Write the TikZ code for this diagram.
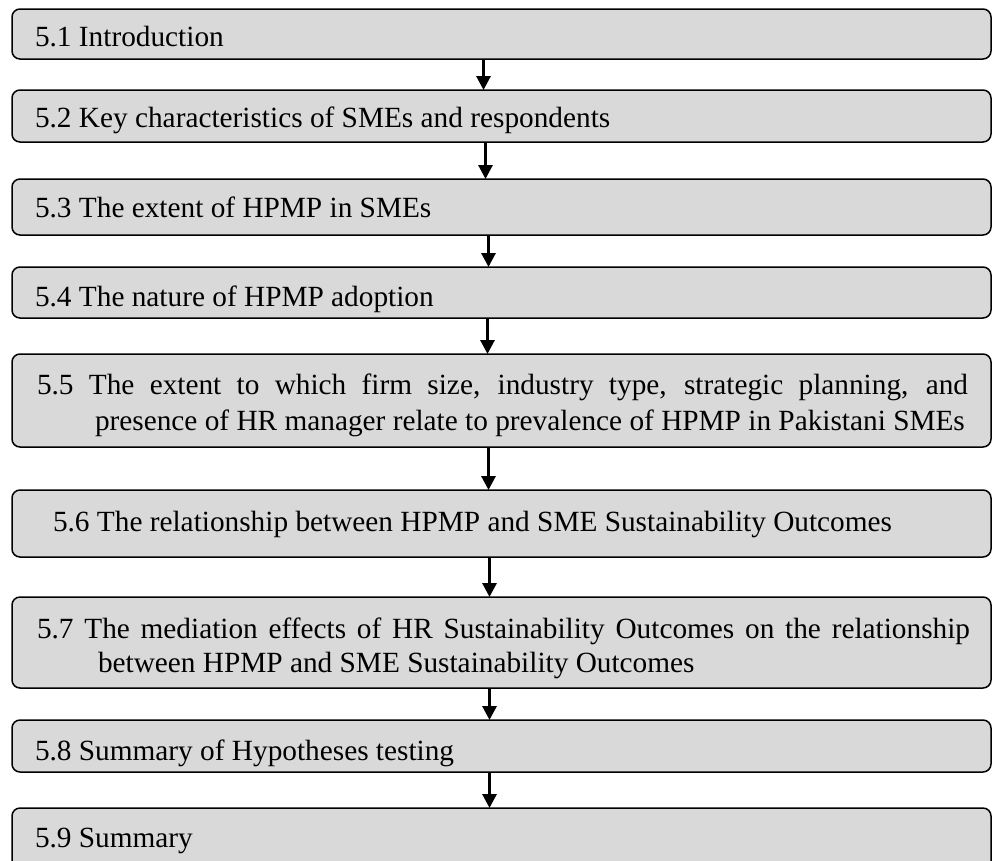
\documentclass[tikz,border=0pt]{standalone}
\usepackage{fontspec}
\setmainfont{Liberation Serif}
\usetikzlibrary{arrows.meta}
\definecolor{boxgray}{RGB}{217,217,217}
\tikzset{
  box/.style={draw=black, line width=1.5pt, fill=boxgray, rounded corners=8pt,
    rectangle, minimum width=979pt, inner sep=0pt, outer sep=0pt},
  lbl/.style={inner sep=0pt, outer sep=0pt, anchor=base west,
    font=\fontsize{29.3}{36}\selectfont},
  arr/.style={line width=3pt, -{Triangle[length=14pt,width=14pt]}}
}
\begin{document}
\begin{tikzpicture}[x=1pt,y=-1pt]
\useasboundingbox (0,0) rectangle (992,860);
% boxes
\node[box, minimum height=50pt] (b1) at (501.5,34) {};
\node[box, minimum height=52pt] (b2) at (501.5,116) {};
\node[box, minimum height=56pt] (b3) at (501.5,207) {};
\node[box, minimum height=51pt] (b4) at (501.5,292.5) {};
\node[box, minimum height=93pt] (b5) at (501.5,400.5) {};
\node[box, minimum height=67pt] (b6) at (501.5,523.5) {};
\node[box, minimum height=91pt] (b7) at (501.5,642.5) {};
\node[box, minimum height=52pt] (b8) at (501.5,746) {};
\node[box, minimum height=92pt] (b9) at (501.5,854) {};
% texts
\node[lbl] (t1) at (35,46) {5.1 Introduction};
\node[lbl] (t2) at (35,127.5) {5.2 Key characteristics of SMEs and respondents};
\node[lbl] (t3) at (35,217) {5.3 The extent of HPMP in SMEs};
\node[lbl] (t4) at (35,306) {5.4 The nature of HPMP adoption};
\node[lbl] (t5a) at (37,394) {\makebox[931pt][s]{5.5 The extent to which firm size, industry type, strategic planning, and}};
\node[lbl] (t5b) at (95,430) {presence of HR manager relate to prevalence of HPMP in Pakistani SMEs};
\node[lbl] (t6) at (53,531) {5.6 The relationship between HPMP and SME Sustainability Outcomes};
\node[lbl] (t7a) at (37,638) {\makebox[933pt][s]{5.7 The mediation effects of HR Sustainability Outcomes on the relationship}};
\node[lbl] (t7b) at (98,672) {between HPMP and SME Sustainability Outcomes};
\node[lbl] (t8) at (35,760) {5.8 Summary of Hypotheses testing};
\node[lbl] (t9) at (35,847) {5.9 Summary};
% arrows
\draw[arr] ([xshift=-18pt]b1.south) -- ([xshift=-18pt]b2.north);
\draw[arr] ([xshift=-16pt]b2.south) -- ([xshift=-16pt]b3.north);
\draw[arr] ([xshift=-13pt]b3.south) -- ([xshift=-13pt]b4.north);
\draw[arr] ([xshift=-14pt]b4.south) -- ([xshift=-14pt]b5.north);
\draw[arr] ([xshift=-13pt]b5.south) -- ([xshift=-13pt]b6.north);
\draw[arr] ([xshift=-12pt]b6.south) -- ([xshift=-12pt]b7.north);
\draw[arr] ([xshift=-12pt]b7.south) -- ([xshift=-12pt]b8.north);
\draw[arr] ([xshift=-12pt]b8.south) -- ([xshift=-12pt]b9.north);
\end{tikzpicture}
\end{document}
